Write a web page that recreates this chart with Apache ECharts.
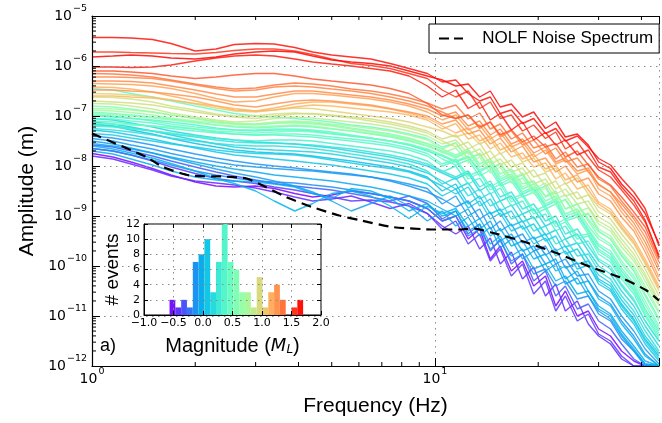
<!DOCTYPE html>
<html><head><meta charset="utf-8">
<script src="https://cdn.jsdelivr.net/npm/echarts@6/dist/echarts.min.js"></script>
<style>html,body{margin:0;padding:0;background:#fff}#c{width:662px;height:423px}</style>
</head><body><div id="c"></div>
<script>
// ---------------- data ----------------
const freqHz = [1,1.15,1.3,1.5,1.7,2,2.3,2.6,3,3.4,3.9,4.4,5,5.7,6.5,7.4,8.4,9.5,
  10.5,11.5,12.5,13.5,14.5,15.5,16.7,18,19.4,21,22.5,24,26,28,30,32.5,35,38,41,45];

const noiseFreqHz = [1,1.44,1.61,1.93,2.4,2.82,3.21,3.68,4.38,5.25,6.0,7.5,10,11.7,13,14.6,18.3,22.8,28.4,35.3,41.4,45];
const noiseLog10Amp = [-7.35,-7.82,-8.02,-8.19,-8.21,-8.25,-8.42,-8.62,-8.82,-8.99,-9.08,-9.22,-9.27,-9.27,-9.25,-9.33,-9.52,-9.75,-10.02,-10.25,-10.49,-10.69];

// log10 amplitude (m) of event spectra
const specR1 = [-5.43,-5.43,-5.44,-5.47,-5.55,-5.70,-5.66,-5.57,-5.55,-5.56,-5.63,-5.72,-5.78,-5.82,-5.86,-5.95,-6.05,-6.15,
  -6.32,-6.28,-6.55,-6.70,-6.62,-6.95,-6.88,-7.15,-7.05,-7.35,-7.25,-7.50,-7.40,-7.62,-7.85,-7.98,-8.25,-8.52,-8.85,-9.60];
const specR2 = [-5.72,-5.72,-5.73,-5.74,-5.75,-5.76,-5.73,-5.69,-5.66,-5.66,-5.70,-5.77,-5.86,-5.95,-5.99,-6.05,-6.15,-6.25,
  -6.48,-6.62,-6.50,-6.85,-6.72,-7.05,-6.98,-7.30,-7.18,-7.45,-7.32,-7.66,-7.52,-7.82,-8.08,-8.22,-8.48,-8.78,-9.12,-9.78];
const specR3 = [-6.02,-6.02,-6.03,-6.02,-5.98,-5.90,-5.84,-5.80,-5.78,-5.80,-5.86,-5.92,-5.96,-6.00,-6.05,-6.10,-6.20,-6.40,
  -6.62,-6.48,-6.85,-6.72,-7.08,-6.95,-7.28,-7.12,-7.48,-7.33,-7.58,-7.48,-7.78,-7.68,-8.02,-8.12,-8.42,-8.70,-9.08,-9.82];
const specR4 = [-6.10,-6.10,-6.12,-6.15,-6.20,-6.25,-6.22,-6.18,-6.15,-6.15,-6.20,-6.26,-6.30,-6.34,-6.38,-6.45,-6.55,-6.75,
  -6.98,-7.05,-6.98,-7.22,-7.12,-7.38,-7.28,-7.52,-7.40,-7.62,-7.55,-7.82,-7.70,-7.98,-8.22,-8.38,-8.62,-8.92,-9.22,-9.86];
const specR5 = [-5.82,-5.80,-5.78,-5.80,-5.84,-5.86,-5.82,-5.76,-5.72,-5.70,-5.72,-5.80,-5.88,-5.92,-5.95,-6.00,-6.10,-6.20,
  -6.28,-6.40,-6.36,-6.62,-6.50,-6.82,-6.76,-7.02,-6.92,-7.25,-7.12,-7.42,-7.36,-7.58,-7.92,-8.05,-8.36,-8.62,-8.95,-9.55];
const specO1 = [-6.22,-6.22,-6.23,-6.25,-6.30,-6.38,-6.45,-6.50,-6.48,-6.42,-6.40,-6.42,-6.46,-6.50,-6.55,-6.62,-6.70,-6.80,
  -6.92,-7.05,-6.98,-7.25,-7.12,-7.42,-7.30,-7.58,-7.48,-7.76,-7.64,-7.92,-7.84,-8.12,-8.36,-8.52,-8.76,-9.06,-9.42,-10.02];
const specO2 = [-6.35,-6.36,-6.37,-6.40,-6.45,-6.55,-6.65,-6.72,-6.70,-6.62,-6.55,-6.55,-6.58,-6.62,-6.66,-6.72,-6.80,-6.92,
  -7.08,-6.98,-7.28,-7.18,-7.46,-7.34,-7.62,-7.52,-7.82,-7.68,-7.96,-7.88,-8.16,-8.08,-8.46,-8.60,-8.92,-9.22,-9.62,-10.22];
const specO3 = [-6.48,-6.48,-6.50,-6.52,-6.56,-6.62,-6.70,-6.78,-6.82,-6.76,-6.70,-6.68,-6.70,-6.74,-6.78,-6.85,-6.92,-7.00,
  -7.16,-7.08,-7.36,-7.28,-7.56,-7.44,-7.72,-7.60,-7.92,-7.84,-8.12,-8.00,-8.32,-8.24,-8.56,-8.70,-9.02,-9.30,-9.72,-10.30];
const specO4 = [-6.60,-6.60,-6.62,-6.64,-6.68,-6.75,-6.80,-6.85,-6.90,-6.88,-6.82,-6.78,-6.80,-6.84,-6.88,-6.92,-6.98,-7.08,
  -7.26,-7.15,-7.46,-7.38,-7.66,-7.54,-7.82,-7.74,-8.02,-7.94,-8.26,-8.14,-8.46,-8.38,-8.72,-8.86,-9.16,-9.46,-9.86,-10.40];
const specO5 = [-6.15,-6.16,-6.18,-6.22,-6.28,-6.36,-6.42,-6.46,-6.44,-6.38,-6.34,-6.36,-6.40,-6.46,-6.50,-6.56,-6.64,-6.74,
  -6.86,-6.78,-7.06,-6.94,-7.26,-7.16,-7.46,-7.34,-7.64,-7.56,-7.86,-7.72,-8.02,-7.96,-8.26,-8.40,-8.70,-9.00,-9.32,-9.92];
const specO6 = [-6.42,-6.43,-6.46,-6.52,-6.60,-6.70,-6.80,-6.88,-6.90,-6.84,-6.76,-6.72,-6.72,-6.76,-6.80,-6.86,-6.94,-7.04,
  -7.20,-7.34,-7.24,-7.50,-7.40,-7.68,-7.58,-7.86,-7.76,-8.06,-7.98,-8.28,-8.18,-8.48,-8.76,-8.92,-9.22,-9.52,-9.92,-10.45];
const specO7 = [-6.30,-6.30,-6.31,-6.34,-6.40,-6.48,-6.56,-6.62,-6.62,-6.56,-6.50,-6.50,-6.54,-6.58,-6.62,-6.68,-6.76,-6.86,
  -7.00,-6.92,-7.20,-7.10,-7.38,-7.26,-7.56,-7.46,-7.74,-7.62,-7.92,-7.84,-8.10,-8.04,-8.38,-8.52,-8.84,-9.14,-9.52,-10.10];
const specY1 = [-6.70,-6.72,-6.74,-6.78,-6.84,-6.92,-6.98,-7.02,-7.05,-7.00,-6.96,-6.95,-6.98,-7.02,-7.06,-7.12,-7.20,-7.30,
  -7.46,-7.38,-7.66,-7.54,-7.86,-7.74,-8.02,-7.94,-8.22,-8.14,-8.46,-8.34,-8.66,-8.58,-8.92,-9.06,-9.36,-9.66,-10.06,-10.60];
const specY2 = [-6.55,-6.56,-6.58,-6.62,-6.68,-6.76,-6.84,-6.90,-6.92,-6.88,-6.84,-6.85,-6.90,-6.95,-7.00,-7.05,-7.12,-7.22,
  -7.30,-7.42,-7.34,-7.56,-7.46,-7.76,-7.64,-7.92,-7.84,-8.12,-8.04,-8.36,-8.24,-8.56,-8.82,-8.96,-9.26,-9.56,-9.96,-10.50];
const specY3 = [-6.62,-6.63,-6.66,-6.72,-6.80,-6.88,-6.96,-7.00,-7.00,-6.96,-6.94,-6.96,-7.00,-7.04,-7.10,-7.16,-7.24,-7.34,
  -7.50,-7.62,-7.52,-7.80,-7.70,-7.98,-7.88,-8.18,-8.08,-8.40,-8.30,-8.60,-8.52,-8.82,-9.10,-9.24,-9.54,-9.84,-10.22,-10.75];
const specG1 = [-6.85,-6.86,-6.88,-6.92,-6.98,-7.05,-7.10,-7.14,-7.16,-7.12,-7.10,-7.12,-7.16,-7.20,-7.25,-7.30,-7.38,-7.48,
  -7.66,-7.54,-7.86,-7.74,-8.06,-7.94,-8.26,-8.14,-8.46,-8.34,-8.66,-8.58,-8.92,-8.84,-9.16,-9.30,-9.62,-9.90,-10.30,-10.80];
const specG2 = [-6.95,-6.97,-7.00,-7.04,-7.08,-7.14,-7.18,-7.20,-7.22,-7.20,-7.18,-7.20,-7.25,-7.30,-7.35,-7.40,-7.48,-7.60,
  -7.72,-7.84,-7.72,-8.02,-7.90,-8.22,-8.10,-8.42,-8.30,-8.62,-8.54,-8.86,-8.76,-9.06,-9.32,-9.46,-9.76,-10.06,-10.46,-10.95];
const specG3 = [-6.75,-6.76,-6.80,-6.86,-6.94,-7.02,-7.08,-7.12,-7.10,-7.05,-7.02,-7.04,-7.08,-7.12,-7.16,-7.22,-7.30,-7.40,
  -7.56,-7.48,-7.76,-7.66,-7.96,-7.86,-8.12,-8.04,-8.36,-8.26,-8.56,-8.46,-8.76,-8.70,-9.02,-9.16,-9.46,-9.76,-10.16,-10.70];
const specG4 = [-6.88,-6.90,-6.93,-6.98,-7.04,-7.10,-7.14,-7.16,-7.16,-7.14,-7.14,-7.16,-7.20,-7.26,-7.32,-7.38,-7.46,-7.56,
  -7.74,-7.64,-7.94,-7.82,-8.14,-8.02,-8.34,-8.24,-8.56,-8.44,-8.78,-8.68,-9.02,-8.94,-9.26,-9.40,-9.72,-10.00,-10.40,-10.90];
const specE1 = [-6.45,-6.48,-6.55,-6.62,-6.70,-6.80,-6.88,-6.95,-7.00,-7.02,-7.05,-7.08,-7.12,-7.18,-7.22,-7.28,-7.36,-7.45,
  -7.62,-7.54,-7.86,-7.76,-8.06,-7.96,-8.26,-8.18,-8.50,-8.40,-8.76,-8.66,-9.02,-8.96,-9.30,-9.46,-9.80,-10.10,-10.56,-11.05];
const specE2 = [-7.00,-7.02,-7.05,-7.08,-7.12,-7.18,-7.24,-7.28,-7.30,-7.28,-7.28,-7.30,-7.35,-7.40,-7.45,-7.50,-7.58,-7.70,
  -7.80,-7.92,-7.82,-8.12,-8.00,-8.36,-8.24,-8.56,-8.46,-8.80,-8.70,-9.06,-8.96,-9.30,-9.60,-9.76,-10.10,-10.40,-10.86,-11.30];
const specE3 = [-7.10,-7.12,-7.16,-7.20,-7.25,-7.30,-7.34,-7.36,-7.38,-7.36,-7.36,-7.38,-7.42,-7.46,-7.50,-7.56,-7.64,-7.75,
  -7.96,-7.86,-8.20,-8.10,-8.42,-8.30,-8.66,-8.56,-8.90,-8.80,-9.16,-9.06,-9.40,-9.36,-9.70,-9.86,-10.20,-10.50,-10.96,-11.40];
const specE4 = [-6.92,-6.95,-6.98,-7.02,-7.06,-7.12,-7.18,-7.22,-7.24,-7.22,-7.20,-7.22,-7.26,-7.30,-7.36,-7.42,-7.50,-7.60,
  -7.70,-7.82,-7.70,-8.02,-7.90,-8.26,-8.16,-8.46,-8.36,-8.70,-8.60,-8.96,-8.86,-9.20,-9.46,-9.60,-9.96,-10.26,-10.70,-11.20];
const specE5 = [-7.20,-7.22,-7.26,-7.30,-7.34,-7.40,-7.45,-7.48,-7.50,-7.48,-7.48,-7.50,-7.55,-7.60,-7.65,-7.70,-7.78,-7.90,
  -8.12,-8.00,-8.36,-8.24,-8.56,-8.44,-8.80,-8.70,-9.06,-8.96,-9.30,-9.20,-9.56,-9.50,-9.86,-10.00,-10.36,-10.66,-11.10,-11.50];
const specE6 = [-6.80,-6.82,-6.86,-6.92,-6.98,-7.05,-7.12,-7.16,-7.18,-7.15,-7.12,-7.14,-7.18,-7.24,-7.30,-7.36,-7.44,-7.55,
  -7.66,-7.78,-7.66,-7.96,-7.86,-8.16,-8.06,-8.36,-8.30,-8.60,-8.50,-8.86,-8.76,-9.10,-9.40,-9.56,-9.90,-10.20,-10.60,-11.10];
const specE7 = [-6.98,-7.00,-7.04,-7.10,-7.16,-7.22,-7.26,-7.28,-7.28,-7.26,-7.26,-7.28,-7.32,-7.38,-7.44,-7.50,-7.58,-7.68,
  -7.86,-7.98,-7.88,-8.20,-8.08,-8.40,-8.30,-8.62,-8.52,-8.86,-8.76,-9.10,-9.02,-9.36,-9.66,-9.82,-10.16,-10.46,-10.90,-11.35];
const specE8 = [-7.05,-7.06,-7.10,-7.14,-7.20,-7.26,-7.32,-7.36,-7.38,-7.38,-7.40,-7.42,-7.46,-7.50,-7.55,-7.60,-7.68,-7.80,
  -8.00,-7.90,-8.26,-8.14,-8.48,-8.36,-8.72,-8.60,-8.96,-8.86,-9.22,-9.12,-9.46,-9.40,-9.76,-9.92,-10.26,-10.56,-11.00,-11.45];
const specE9 = [-7.15,-7.16,-7.18,-7.20,-7.22,-7.26,-7.30,-7.32,-7.34,-7.32,-7.30,-7.32,-7.36,-7.40,-7.44,-7.50,-7.56,-7.66,
  -7.78,-7.90,-7.80,-8.08,-7.98,-8.30,-8.20,-8.52,-8.42,-8.76,-8.66,-9.00,-8.92,-9.26,-9.56,-9.70,-10.04,-10.34,-10.78,-11.25];
const specF1 = [-7.25,-7.28,-7.32,-7.38,-7.44,-7.50,-7.55,-7.58,-7.60,-7.60,-7.62,-7.65,-7.70,-7.76,-7.82,-7.88,-7.96,-8.10,
  -8.36,-8.24,-8.60,-8.46,-8.80,-8.70,-9.06,-8.96,-9.30,-9.20,-9.56,-9.46,-9.80,-9.76,-10.10,-10.26,-10.60,-10.90,-11.30,-11.70];
const specF2 = [-7.35,-7.38,-7.44,-7.50,-7.56,-7.62,-7.68,-7.72,-7.75,-7.76,-7.78,-7.82,-7.88,-7.94,-8.00,-8.05,-8.12,-8.25,
  -8.40,-8.56,-8.42,-8.80,-8.66,-9.00,-8.90,-9.26,-9.16,-9.50,-9.40,-9.76,-9.66,-10.00,-10.30,-10.46,-10.80,-11.10,-11.50,-11.85];
const specF3 = [-7.15,-7.20,-7.28,-7.36,-7.45,-7.55,-7.62,-7.68,-7.72,-7.74,-7.76,-7.80,-7.85,-7.90,-7.96,-8.02,-8.10,-8.22,
  -8.50,-8.36,-8.76,-8.60,-8.96,-8.86,-9.20,-9.10,-9.46,-9.36,-9.70,-9.60,-9.96,-9.90,-10.26,-10.40,-10.76,-11.06,-11.46,-11.80];
const specF4 = [-7.05,-7.08,-7.14,-7.22,-7.30,-7.38,-7.44,-7.48,-7.52,-7.54,-7.56,-7.60,-7.64,-7.70,-7.76,-7.82,-7.90,-8.00,
  -8.14,-8.26,-8.14,-8.50,-8.36,-8.70,-8.60,-8.96,-8.86,-9.20,-9.10,-9.46,-9.36,-9.70,-10.00,-10.16,-10.50,-10.80,-11.20,-11.60];
const specF5 = [-7.60,-7.66,-7.74,-7.84,-7.95,-8.10,-8.25,-8.35,-8.50,-8.70,-8.90,-8.75,-8.55,-8.50,-8.60,-8.80,-9.05,-8.80,
  -8.95,-8.85,-9.20,-9.05,-9.40,-9.25,-9.60,-9.50,-9.86,-9.76,-10.10,-10.00,-10.36,-10.30,-10.66,-10.80,-11.16,-11.46,-11.80,-12.00];
const specF6 = [-7.12,-7.16,-7.22,-7.30,-7.38,-7.48,-7.56,-7.62,-7.66,-7.68,-7.70,-7.72,-7.76,-7.82,-7.88,-7.94,-8.02,-8.14,
  -8.30,-8.46,-8.34,-8.66,-8.54,-8.90,-8.78,-9.12,-9.02,-9.38,-9.28,-9.62,-9.54,-9.88,-10.18,-10.34,-10.68,-10.98,-11.40,-11.75];
const specF7 = [-7.28,-7.32,-7.38,-7.46,-7.54,-7.64,-7.72,-7.78,-7.82,-7.86,-7.90,-7.94,-7.98,-8.04,-8.10,-8.16,-8.24,-8.36,
  -8.60,-8.46,-8.84,-8.70,-9.06,-8.94,-9.30,-9.20,-9.56,-9.44,-9.80,-9.70,-10.06,-9.98,-10.36,-10.50,-10.86,-11.16,-11.56,-11.90];
const specF8 = [-7.18,-7.20,-7.24,-7.30,-7.36,-7.42,-7.48,-7.52,-7.54,-7.54,-7.56,-7.58,-7.62,-7.66,-7.72,-7.78,-7.86,-7.96,
  -8.10,-8.22,-8.10,-8.42,-8.30,-8.62,-8.52,-8.86,-8.76,-9.10,-9.00,-9.36,-9.26,-9.60,-9.90,-10.06,-10.40,-10.70,-11.10,-11.50];
const specB1 = [-7.45,-7.50,-7.58,-7.66,-7.75,-7.85,-7.92,-7.98,-8.02,-8.05,-8.08,-8.10,-8.14,-8.18,-8.22,-8.28,-8.36,-8.45,
  -8.76,-8.60,-9.00,-8.86,-9.26,-9.10,-9.46,-9.36,-9.70,-9.60,-9.96,-9.86,-10.20,-10.16,-10.50,-10.66,-11.00,-11.30,-11.66,-11.96];
const specB2 = [-7.55,-7.60,-7.66,-7.74,-7.82,-7.92,-8.00,-8.06,-8.12,-8.18,-8.22,-8.26,-8.30,-8.36,-8.42,-8.50,-8.60,-8.70,
  -8.86,-9.00,-8.86,-9.26,-9.10,-9.50,-9.36,-9.70,-9.60,-9.96,-9.86,-10.26,-10.10,-10.50,-10.80,-10.96,-11.30,-11.60,-11.90,-12.00];
const specB3 = [-7.65,-7.70,-7.78,-7.88,-7.98,-8.10,-8.18,-8.24,-8.30,-8.32,-8.34,-8.38,-8.42,-8.48,-8.55,-8.62,-8.70,-8.85,
  -9.10,-9.00,-9.40,-9.26,-9.66,-9.50,-9.90,-9.76,-10.16,-10.06,-10.40,-10.30,-10.66,-10.60,-10.96,-11.10,-11.46,-11.70,-11.96,-12.00];
const specB4 = [-7.70,-7.76,-7.86,-7.98,-8.10,-8.22,-8.28,-8.30,-8.32,-8.36,-8.42,-8.55,-8.65,-8.45,-8.50,-8.65,-8.90,-8.75,
  -9.00,-8.90,-9.30,-9.16,-9.56,-9.40,-9.80,-9.66,-10.06,-9.96,-10.30,-10.20,-10.56,-10.50,-10.86,-11.00,-11.36,-11.66,-11.96,-12.00];
const specB5 = [-7.40,-7.44,-7.50,-7.58,-7.66,-7.76,-7.84,-7.90,-7.96,-8.00,-8.04,-8.08,-8.12,-8.16,-8.22,-8.30,-8.40,-8.52,
  -8.66,-8.82,-8.70,-9.06,-8.92,-9.30,-9.16,-9.54,-9.42,-9.78,-9.66,-10.04,-9.94,-10.30,-10.60,-10.76,-11.10,-11.40,-11.76,-12.00];
const specB6 = [-7.50,-7.56,-7.64,-7.74,-7.84,-7.96,-8.06,-8.14,-8.22,-8.30,-8.40,-8.52,-8.70,-8.90,-8.75,-8.60,-8.80,-9.10,
  -8.90,-9.20,-9.02,-9.40,-9.22,-9.64,-9.46,-9.86,-9.70,-10.10,-9.96,-10.36,-10.24,-10.60,-10.90,-11.06,-11.40,-11.70,-12.00,-12.00];
const specH1 = [-7.75,-7.82,-7.92,-8.05,-8.18,-8.32,-8.40,-8.42,-8.40,-8.45,-8.55,-8.62,-8.58,-8.50,-8.55,-8.62,-8.70,-8.85,
  -9.10,-9.00,-9.46,-9.26,-9.86,-9.60,-10.10,-9.90,-10.40,-10.20,-10.80,-10.50,-11.00,-10.90,-11.26,-11.40,-11.70,-11.90,-12.00,-12.00];
const specH2 = [-7.65,-7.70,-7.78,-7.90,-8.02,-8.15,-8.25,-8.30,-8.35,-8.42,-8.48,-8.55,-8.62,-8.70,-8.68,-8.72,-8.80,-8.95,
  -9.26,-9.10,-9.56,-9.36,-9.90,-9.66,-10.20,-9.96,-10.56,-10.30,-10.90,-10.60,-11.10,-10.96,-11.36,-11.50,-11.80,-12.00,-12.00,-12.00];
const specH3 = [-7.58,-7.62,-7.70,-7.80,-7.90,-8.02,-8.12,-8.20,-8.28,-8.35,-8.40,-8.44,-8.48,-8.55,-8.62,-8.70,-8.60,-8.75,
  -9.06,-8.90,-9.36,-9.16,-9.70,-9.46,-9.96,-9.76,-10.30,-10.10,-10.60,-10.40,-10.86,-10.76,-11.10,-11.26,-11.56,-11.86,-12.00,-12.00];
const specH4 = [-7.80,-7.86,-7.96,-8.08,-8.20,-8.30,-8.34,-8.38,-8.44,-8.52,-8.62,-8.70,-8.66,-8.60,-8.72,-8.85,-8.75,-8.95,
  -9.20,-9.36,-9.20,-9.66,-9.44,-9.96,-9.72,-10.26,-10.02,-10.60,-10.36,-10.90,-10.70,-11.16,-11.40,-11.56,-11.86,-12.00,-12.00,-12.00];

// drawn in order of increasing magnitude
const eventSpectra = [specH1,specH4,specH2,specH3,specB3,specB5,specB1,specB6,specB2,specB4,
  specF5,specF3,specF7,specF2,specF6,specF4,specF1,specF8,
  specE5,specE2,specE8,specE3,specE7,specE1,specE9,specE4,specE6,
  specG2,specG4,specG1,specG3,specY3,specY1,specY2,
  specO4,specO6,specO2,specO3,specO7,specO1,specO5,
  specR4,specR2,specR3,specR1,specR5];
const eventMagnitudes = [-0.55,-0.45,-0.4,-0.3,-0.15,-0.12,-0.1,-0.08,-0.05,-0.02,
  0.0,0.05,0.08,0.1,0.12,0.15,0.2,0.22,
  0.3,0.35,0.38,0.4,0.42,0.45,0.48,0.5,0.55,
  0.65,0.7,0.75,0.85,0.9,0.95,1.0,
  1.12,1.15,1.2,1.25,1.28,1.3,1.35,
  1.45,1.55,1.62,1.65,1.68];

// histogram of magnitudes (inset)
const histEdges = [-0.567,-0.469,-0.370,-0.272,-0.173,-0.075,0.024,0.122,0.220,0.319,0.417,0.516,
  0.614,0.713,0.811,0.910,1.008,1.106,1.205,1.303,1.402,1.500,1.599,1.697];
const histCounts = [2,1,2,1,7,8,10,3,7,12,7,6,3,3,1,5,1,3,4,2,0,1,2];

// ticks
const xMinorTicks = [2,3,4,5,6,7,8,9,20,30,40];
const yDecades = [-12,-11,-10,-9,-8,-7,-6];
const minorMultipliers = [2,3,4,5,6,7,8,9];

// ---------------- styling helpers ----------------
const magMin = histEdges[0], magMax = histEdges[histEdges.length - 1];
function rainbow(m) {
  let t = (m - magMin) / (magMax - magMin);
  t = Math.max(0, Math.min(1, t));
  const r = Math.min(1, Math.abs(2 * t - 0.5));
  const g = Math.sin(Math.PI * t);
  const b = Math.cos(Math.PI * t / 2);
  return 'rgb(' + Math.round(r * 255) + ',' + Math.round(g * 255) + ',' + Math.round(b * 255) + ')';
}
const TICKFONT = 'DejaVu Sans';
const SANS = 'Liberation Sans';
const supRich = {
  b: {fontFamily: TICKFONT, fontSize: 14, color: '#000', lineHeight: 16, padding: [4, 0, 4, 0]},
  s: {fontFamily: TICKFONT, fontSize: 9.5, color: '#000', lineHeight: 10, padding: [0, 0, 14, 1]}
};
function isDecade(v) { const l = Math.log10(v); return Math.abs(l - Math.round(l)) < 1e-6 && v < 40; }
const dotted = {color: '#8a8a8a', type: [1.5, 4.5], width: 1};

// ---------------- series ----------------
const series = [];
eventSpectra.forEach((spec, k) => {
  series.push({
    type: 'line', xAxisIndex: 0, yAxisIndex: 0, silent: true,
    symbol: 'none', showSymbol: false, z: 2,
    lineStyle: {width: 1.4, color: rainbow(eventMagnitudes[k]), opacity: 0.85},
    data: freqHz.map((f, i) => [f, spec[i]])
  });
});
series.push({
  name: 'NOLF Noise Spectrum', type: 'line', xAxisIndex: 0, yAxisIndex: 0, silent: true,
  symbol: 'none', showSymbol: false, z: 4, smooth: 0.2,
  lineStyle: {width: 2.2, color: '#000', type: [10, 6]},
  itemStyle: {color: '#000'},
  data: noiseFreqHz.map((f, i) => [f, noiseLog10Amp[i]])
});
// minor ticks on main x axis (bottom and top)
series.push({
  type: 'custom', xAxisIndex: 0, yAxisIndex: 0, silent: true, z: 6, clip: false,
  data: xMinorTicks.map(f => [f, -12]),
  renderItem: (params, api) => {
    const b = api.coord([api.value(0), -12]);
    const t = api.coord([api.value(0), -5]);
    return {type: 'group', children: [
      {type: 'line', shape: {x1: b[0], y1: b[1], x2: b[0], y2: b[1] - 4}, style: {stroke: '#000', lineWidth: 1}},
      {type: 'line', shape: {x1: t[0], y1: t[1], x2: t[0], y2: t[1] + 4}, style: {stroke: '#000', lineWidth: 1}}
    ]};
  }
});
// minor ticks on main y axis (left)
const yMinor = [];
yDecades.forEach(d => minorMultipliers.forEach(m => yMinor.push([1, d + Math.log10(m)])));
series.push({
  type: 'custom', xAxisIndex: 0, yAxisIndex: 0, silent: true, z: 6, clip: false,
  data: yMinor,
  renderItem: (params, api) => {
    const p = api.coord([1, api.value(1)]);
    return {type: 'line', shape: {x1: p[0], y1: p[1], x2: p[0] + 4, y2: p[1]}, style: {stroke: '#000', lineWidth: 1}};
  }
});
// histogram
series.push({
  type: 'custom', xAxisIndex: 2, yAxisIndex: 1, silent: true, z: 12,
  data: histCounts.map((c, i) => [histEdges[i], histEdges[i + 1], c]),
  encode: {x: [0, 1], y: 2},
  renderItem: (params, api) => {
    const x0 = api.value(0), x1 = api.value(1), c = api.value(2);
    const p0 = api.coord([x0, c]);
    const p1 = api.coord([x1, 0]);
    return {type: 'rect', shape: {x: p0[0], y: p0[1], width: p1[0] - p0[0], height: p1[1] - p0[1]},
      style: {fill: rainbow((x0 + x1) / 2)}};
  }
});

// ---------------- chart ----------------
const chart = echarts.init(document.getElementById('c'), null, {renderer: 'canvas'});
chart.setOption({
  animation: false,
  backgroundColor: '#fff',
  grid: [
    {left: 92, top: 16, right: 0, bottom: 57},
    {left: 144, top: 224, width: 177, height: 91, show: true, backgroundColor: '#fff',
     borderColor: '#000', borderWidth: 1, z: 10}
  ],
  legend: {
    data: [{name: 'NOLF Noise Spectrum', icon: 'path://M0,0H10V2H0Z M15,0H24V2H15Z'}],
    left: 429, top: 24, z: 8,
    padding: [5, 6, 5, 10], borderColor: '#000', borderWidth: 1, backgroundColor: '#fff',
    itemWidth: 24, itemHeight: 2.4,
    formatter: '   {name}',
    textStyle: {fontFamily: SANS, fontSize: 17, color: '#000', lineHeight: 19}
  },
  xAxis: [
    {type: 'log', logBase: 10, min: 1, max: 45, gridIndex: 0, position: 'bottom', z: 5,
     axisLine: {show: true, onZero: false, lineStyle: {color: '#000', width: 1.2}},
     axisTick: {show: true, inside: true, length: 8, lineStyle: {color: '#000'}},
     axisLabel: {margin: 5, formatter: v => isDecade(v) ? '{b|10}{s|' + Math.round(Math.log10(v)) + '}' : '', rich: supRich},
     splitLine: {show: true, lineStyle: dotted},
     name: 'Frequency (Hz)', nameLocation: 'middle', nameGap: 29,
     nameTextStyle: {fontFamily: SANS, fontSize: 21, color: '#000'}},
    {type: 'log', logBase: 10, min: 1, max: 45, gridIndex: 0, position: 'top', z: 5,
     axisLine: {show: true, onZero: false, lineStyle: {color: '#000', width: 1.2}},
     axisTick: {show: true, inside: true, length: 8, lineStyle: {color: '#000'}},
     axisLabel: {show: false}, splitLine: {show: false}},
    {type: 'value', min: -1, max: 2, interval: 0.5, gridIndex: 1, position: 'bottom', z: 13,
     axisLine: {show: true, onZero: false, lineStyle: {color: '#000', width: 1}},
     axisTick: {show: true, inside: true, length: 4, lineStyle: {color: '#000'}},
     axisLabel: {margin: 3, fontFamily: TICKFONT, fontSize: 11, color: '#000',
       formatter: v => (v < 0 ? '\u2212' : '') + Math.abs(v).toFixed(1)},
     splitLine: {show: true, lineStyle: dotted},
     name: '{n|Magnitude (}{i|M}{sub|L}{n|)}', nameLocation: 'middle', nameGap: 21,
     nameTextStyle: {rich: {
       n: {fontFamily: SANS, fontSize: 20, color: '#000'},
       i: {fontFamily: TICKFONT, fontStyle: 'italic', fontSize: 18, color: '#000'},
       sub: {fontFamily: TICKFONT, fontStyle: 'italic', fontSize: 12, color: '#000', verticalAlign: 'bottom', padding: [8, 0, 0, 0]}
     }}},
    {type: 'value', min: -1, max: 2, interval: 0.5, gridIndex: 1, position: 'top', z: 13,
     axisLine: {show: false, onZero: false},
     axisTick: {show: true, inside: true, length: 4, lineStyle: {color: '#000'}},
     axisLabel: {show: false}, splitLine: {show: false}}
  ],
  yAxis: [
    {type: 'value', min: -12, max: -5, interval: 1, gridIndex: 0, z: 5,
     axisLine: {show: true, onZero: false, lineStyle: {color: '#000', width: 1.2}},
     axisTick: {show: true, inside: true, length: 8, lineStyle: {color: '#000'}},
     axisLabel: {margin: 5, formatter: v => '{b|10}{s|' + (v < 0 ? '\u2212' + (-v) : v) + '}', rich: supRich},
     splitLine: {show: true, lineStyle: dotted},
     name: 'Amplitude (m)', nameLocation: 'middle', nameGap: 41, nameRotate: 90,
     nameTextStyle: {fontFamily: SANS, fontSize: 21, color: '#000'}},
    {type: 'value', min: 0, max: 12, interval: 2, gridIndex: 1, z: 13,
     axisLine: {show: true, onZero: false, lineStyle: {color: '#000', width: 1}},
     axisTick: {show: true, inside: true, length: 4, lineStyle: {color: '#000'}},
     axisLabel: {margin: 4, fontFamily: TICKFONT, fontSize: 11, color: '#000'},
     splitLine: {show: true, lineStyle: dotted},
     name: '# events', nameLocation: 'middle', nameGap: 22, nameRotate: 90,
     nameTextStyle: {fontFamily: SANS, fontSize: 19, color: '#000'}},
    {type: 'value', min: 0, max: 12, interval: 2, gridIndex: 1, position: 'right', z: 13,
     axisLine: {show: false, onZero: false},
     axisTick: {show: true, inside: true, length: 4, lineStyle: {color: '#000'}},
     axisLabel: {show: false}, splitLine: {show: false}}
  ],
  graphic: [
    {type: 'text', left: 100, top: 337, z: 20,
     style: {text: 'a)', fontFamily: SANS, fontSize: 18, fill: '#000'}}
  ],
  series: series
});
</script></body></html>
